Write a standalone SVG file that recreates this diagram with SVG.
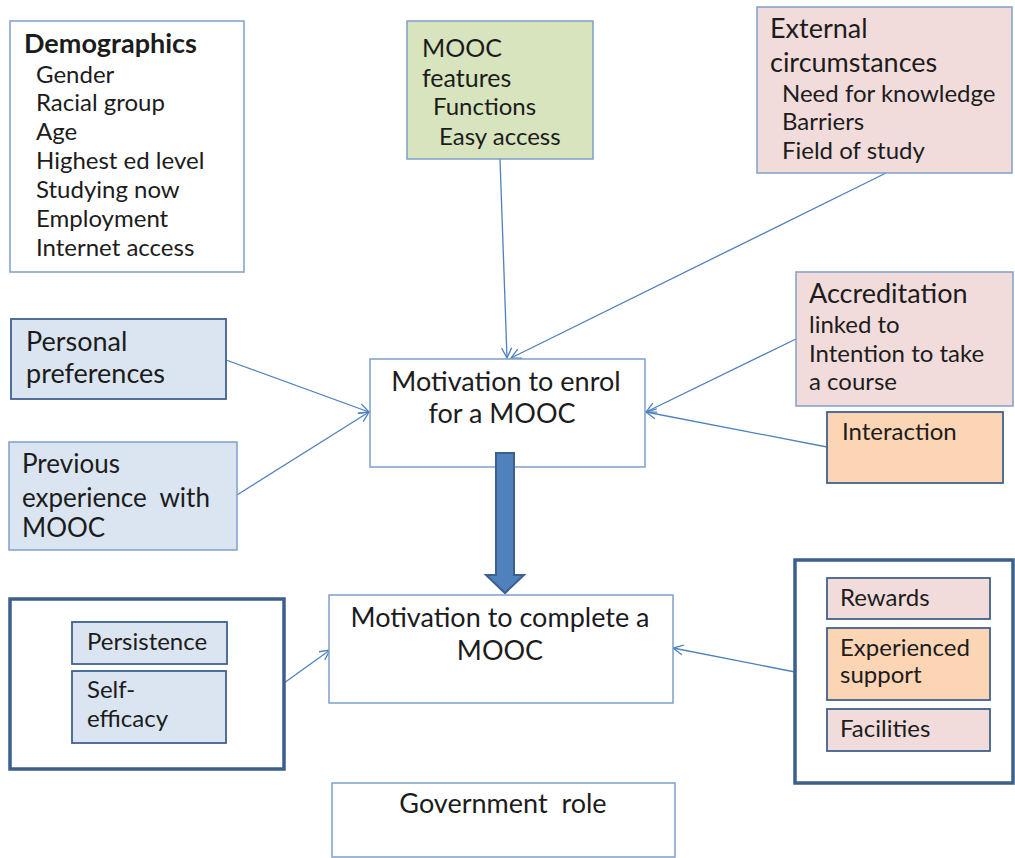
<svg xmlns="http://www.w3.org/2000/svg" width="1015" height="858" viewBox="0 0 1015 858">
  <defs>
    <style>
      text { font-family: Lato, "Open Sans", "Liberation Sans", sans-serif; fill: #1c1c1c; font-size: 24px; }
      .big { font-size: 27px; }
      .head { font-size: 25px; }
      .title { font-weight: bold; font-size: 27px; }
      .mid { text-anchor: middle; }
      .plain { fill: #ffffff; stroke: #7f9fca; stroke-width: 1.5; }
      .lite { stroke: #7f9fca; stroke-width: 1.5; }
      .dark { stroke: #41628d; stroke-width: 1.8; }
      .blue { fill: #dbe5f1; }
      .green { fill: #d7e4bd; }
      .pink { fill: #f2dcdb; }
      .orange { fill: #fcd5b5; }
      .group { fill: #ffffff; stroke: #3d5f8c; stroke-width: 3.5; }
      .link { fill: none; stroke: #4f81bd; stroke-width: 1.3; marker-end: url(#open); }
    </style>
    <marker id="open" viewBox="0 0 12 12" refX="11" refY="6" markerWidth="12" markerHeight="12" markerUnits="userSpaceOnUse" orient="auto">
      <path d="M1,1 L11,6 L1,11" fill="none" stroke="#4f81bd" stroke-width="1.3"/>
    </marker>
  </defs>

  <rect width="1015" height="858" fill="#ffffff"/>

  <!-- connectors -->
  <g id="connectors">
    <line class="link" x1="500" y1="159" x2="507" y2="358"/>
    <line class="link" x1="886" y1="173" x2="511" y2="358"/>
    <line class="link" x1="226" y1="360" x2="369" y2="412"/>
    <line class="link" x1="237" y1="495" x2="369" y2="412"/>
    <line class="link" x1="796" y1="339" x2="646" y2="412"/>
    <line class="link" x1="827" y1="447" x2="646" y2="412"/>
    <line class="link" x1="284" y1="683" x2="330" y2="650"/>
    <line class="link" x1="795" y1="672" x2="673" y2="648"/>
  </g>

  <g id="demographics">
    <rect class="plain" x="10" y="21" width="234" height="251"/>
    <text class="title" x="24" y="53">Demographics</text>
    <text x="36" y="83">Gender</text>
    <text x="36" y="111">Racial group</text>
    <text x="36" y="140">Age</text>
    <text x="36" y="169">Highest ed level</text>
    <text x="36" y="198">Studying now</text>
    <text x="36" y="227">Employment</text>
    <text x="36" y="256">Internet access</text>
  </g>

  <g id="mooc-features">
    <rect class="green lite" x="407" y="21" width="186" height="138"/>
    <text class="head" x="422" y="57">MOOC</text>
    <text class="head" x="422" y="87">features</text>
    <text x="433" y="115">Functions</text>
    <text x="439" y="145">Easy access</text>
  </g>

  <g id="external">
    <rect class="pink lite" x="757" y="7" width="255" height="166"/>
    <text class="big" x="770" y="38">External</text>
    <text class="big" x="770" y="72">circumstances</text>
    <text x="782" y="102">Need for knowledge</text>
    <text x="782" y="130">Barriers</text>
    <text x="782" y="159">Field of study</text>
  </g>

  <g id="personal">
    <rect class="blue dark" x="11" y="319" width="215" height="80"/>
    <text class="big" x="26" y="351">Personal</text>
    <text class="big" x="26" y="383">preferences</text>
  </g>

  <g id="previous">
    <rect class="blue lite" x="9" y="442" width="228" height="108"/>
    <text class="big" x="22" y="473" style="font-size:26px">Previous</text>
    <text class="big" x="22" y="507" style="font-size:26px" xml:space="preserve">experience  with</text>
    <text class="big" x="22" y="537" style="font-size:26px">MOOC</text>
  </g>

  <g id="enrol">
    <rect class="plain" x="370" y="359" width="275" height="108"/>
    <text class="big mid" x="506" y="391">Motivation to enrol</text>
    <text class="big mid" x="502" y="423">for a MOOC</text>
  </g>

  <g id="accreditation">
    <rect class="pink lite" x="796" y="272" width="217" height="134"/>
    <text class="big" x="809" y="303">Accreditation</text>
    <text x="809" y="333">linked to</text>
    <text x="809" y="362">Intention to take</text>
    <text x="809" y="390">a course</text>
  </g>

  <g id="interaction">
    <rect class="orange dark" x="827" y="412" width="176" height="71"/>
    <text x="842" y="440">Interaction</text>
  </g>

  <!-- block arrow from enrolment to completion -->
  <g id="progression">
    <polygon points="496,453 514,453 514,575 524,575 505,593 486,575 496,575" fill="#4f81bd" stroke="#3d5f8c" stroke-width="2" stroke-linejoin="miter"/>
  </g>

  <g id="complete">
    <rect class="plain" x="329" y="595" width="344" height="108"/>
    <text class="big mid" x="500" y="627">Motivation to complete a</text>
    <text class="big mid" x="500" y="660">MOOC</text>
  </g>

  <g id="learner-traits">
    <rect class="group" x="10" y="599" width="274" height="170"/>
    <rect class="blue dark" x="72" y="622" width="155" height="42"/>
    <text x="87" y="650">Persistence</text>
    <rect class="blue dark" x="72" y="671" width="154" height="72"/>
    <text x="87" y="698">Self-</text>
    <text x="87" y="727">efficacy</text>
  </g>

  <g id="course-supports">
    <rect class="group" x="795" y="560" width="218" height="223"/>
    <rect class="pink dark" x="827" y="578" width="163" height="41"/>
    <text x="840" y="606">Rewards</text>
    <rect class="orange dark" x="827" y="628" width="163" height="72"/>
    <text x="840" y="656">Experienced</text>
    <text x="840" y="683">support</text>
    <rect class="pink dark" x="827" y="709" width="163" height="42"/>
    <text x="840" y="737">Facilities</text>
  </g>

  <g id="government">
    <rect class="plain" x="332" y="783" width="343" height="74"/>
    <text class="big mid" x="503" y="813" xml:space="preserve">Government  role</text>
  </g>
</svg>
